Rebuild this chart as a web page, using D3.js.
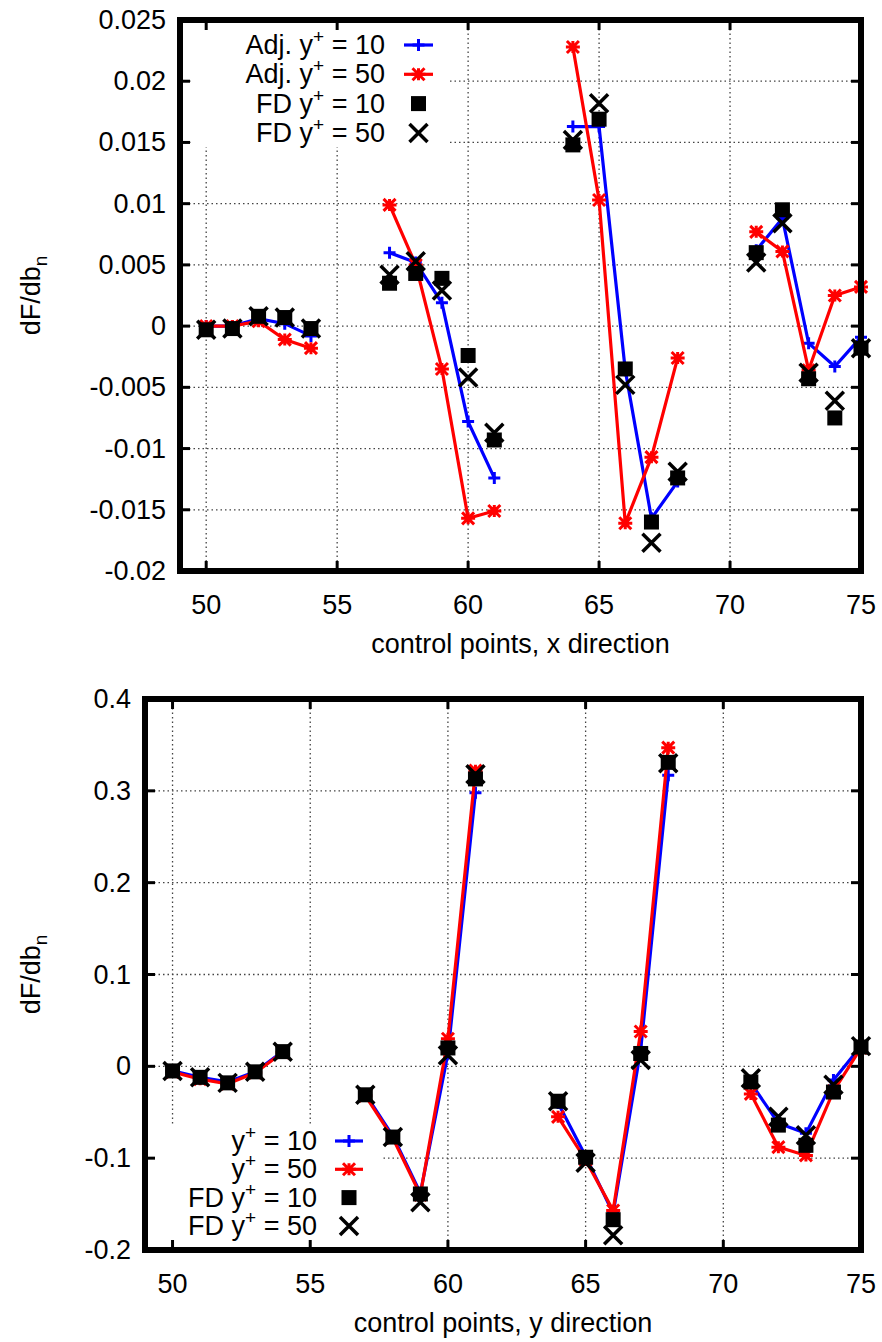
<!DOCTYPE html>
<html>
<head>
<meta charset="utf-8">
<script src="https://cdn.jsdelivr.net/npm/d3@7"></script>
<style>
  body { margin: 0; background: #fff; }
  svg { display: block; font-family: "Liberation Sans", Arial, sans-serif; }
</style>
</head>
<body>
<svg width="882" height="1342"></svg>
<script>
// control point indices (same for both panels)
const controlPoints = [50, 51, 52, 53, 54, 57, 58, 59, 60, 61, 64, 65, 66, 67, 68, 71, 72, 73, 74, 75]

// x direction
const adj10X = [0.0, 0.0, 0.0006, 0.0002, -0.0008, 0.0060, 0.0052, 0.0019, -0.0078, -0.0124,
  0.0163, 0.0163, -0.0036, -0.0157, -0.0127, 0.0062, 0.0088, -0.0014, -0.0033, -0.0009]
const adj50X = [0.0, 0.0, 0.0004, -0.0011, -0.0018, 0.0099, 0.0050, -0.0035, -0.0157, -0.0151,
  0.0228, 0.0103, -0.0161, -0.0107, -0.0026, 0.0077, 0.0061, -0.0036, 0.0025, 0.0032]
const fd10X = [-0.0003, -0.0002, 0.0008, 0.0007, -0.0002, 0.0035, 0.0043, 0.0039, -0.0024, -0.0093,
  0.0148, 0.0169, -0.0035, -0.0160, -0.0124, 0.0060, 0.0095, -0.0043, -0.0075, -0.0018]
const fd50X = [-0.0003, -0.0002, 0.0008, 0.0007, -0.0002, 0.0042, 0.0053, 0.0029, -0.0042, -0.0087,
  0.0152, 0.0182, -0.0048, -0.0177, -0.0119, 0.0052, 0.0084, -0.0038, -0.0061, -0.0018]

// y direction
const adj10Y = [-0.005, -0.012, -0.017, -0.006, 0.016, -0.030, -0.076, -0.138, 0.014, 0.298,
  -0.040, -0.098, -0.160, 0.018, 0.317, -0.018, -0.062, -0.073, -0.015, 0.022]
const adj50Y = [-0.006, -0.014, -0.019, -0.007, 0.015, -0.032, -0.078, -0.140, 0.030, 0.322,
  -0.055, -0.102, -0.157, 0.038, 0.347, -0.030, -0.088, -0.097, -0.027, 0.020]
const fd10Y = [-0.005, -0.012, -0.018, -0.006, 0.016, -0.031, -0.077, -0.139, 0.020, 0.313,
  -0.038, -0.099, -0.167, 0.014, 0.331, -0.017, -0.064, -0.086, -0.028, 0.021]
const fd50Y = [-0.005, -0.012, -0.018, -0.006, 0.016, -0.031, -0.077, -0.148, 0.012, 0.318,
  -0.038, -0.105, -0.184, 0.007, 0.330, -0.013, -0.055, -0.075, -0.020, 0.022]

const xTicks = [50, 55, 60, 65, 70, 75]
const yTicksTop = [0.025, 0.02, 0.015, 0.01, 0.005, 0, -0.005, -0.01, -0.015, -0.02]
const yTicksBottom = [0.4, 0.3, 0.2, 0.1, 0, -0.1, -0.2]

const legendTop = [["Adj. y", " = 10"], ["Adj. y", " = 50"], ["FD y", " = 10"], ["FD y", " = 50"]]
const legendBottom = [["y", " = 10"], ["y", " = 50"], ["FD y", " = 10"], ["FD y", " = 50"]]

const blue = "#0000ff", red = "#ff0000"
const fontSize = 27

const svg = d3.select("svg")

function markerPath(type) {
  if(type === 'plus') return "M-6,0H6M0,-6V6"
  else if(type === 'star') return "M-7,0H7M0,-6V6M-6,-6L6,6M-6,6L6,-6"
  else if(type === 'cross') return "M-9,-9L9,9M-9,9L9,-9"
  return ""
}

function drawPanel(cfg) {
  const x = d3.scaleLinear().domain([49, 75]).range([cfg.left, cfg.right])
  const y = d3.scaleLinear().domain(cfg.yDomain).range([cfg.bottom, cfg.top])
  const g = svg.append("g")

  // grid
  const grid = g.append("g").attr("stroke", "#444").attr("stroke-width", 1.3)
    .attr("stroke-dasharray", "1.5,3")
  grid.selectAll("line.v").data(xTicks.slice(0, -1)).enter().append("line")
    .attr("x1", d => x(d)).attr("x2", d => x(d))
    .attr("y1", cfg.top).attr("y2", cfg.bottom)
  grid.selectAll("line.h").data(cfg.yTicks.slice(1, -1)).enter().append("line")
    .attr("x1", cfg.left).attr("x2", cfg.right)
    .attr("y1", d => y(d)).attr("y2", d => y(d))

  // opaque key box
  g.append("rect").attr("x", cfg.keyBox[0]).attr("y", cfg.keyBox[1])
    .attr("width", cfg.keyBox[2]).attr("height", cfg.keyBox[3]).attr("fill", "#fff")

  // ticks (inward, all four sides)
  const ticks = g.append("g").attr("stroke", "#000").attr("stroke-width", 3)
  xTicks.forEach(t => {
    ticks.append("line").attr("x1", x(t)).attr("x2", x(t)).attr("y1", cfg.bottom).attr("y2", cfg.bottom - 10)
    ticks.append("line").attr("x1", x(t)).attr("x2", x(t)).attr("y1", cfg.top).attr("y2", cfg.top + 10)
  })
  cfg.yTicks.forEach(t => {
    ticks.append("line").attr("x1", cfg.left).attr("x2", cfg.left + 10).attr("y1", y(t)).attr("y2", y(t))
    ticks.append("line").attr("x1", cfg.right).attr("x2", cfg.right - 10).attr("y1", y(t)).attr("y2", y(t))
  })

  // tick labels
  g.append("g").selectAll("text").data(xTicks).enter().append("text")
    .attr("x", d => x(d)).attr("y", cfg.bottom + 43)
    .attr("text-anchor", "middle").attr("font-size", fontSize)
    .text(d => d)
  g.append("g").selectAll("text").data(cfg.yTicks).enter().append("text")
    .attr("x", cfg.left - 14).attr("y", d => y(d) + 9)
    .attr("text-anchor", "end").attr("font-size", fontSize)
    .text(d => String(d))

  // axis titles
  g.append("text").attr("x", (cfg.left + cfg.right) / 2).attr("y", cfg.bottom + 82)
    .attr("text-anchor", "middle").attr("font-size", fontSize).text(cfg.xTitle)
  const yt = g.append("text")
    .attr("transform", `translate(40,${(cfg.top + cfg.bottom) / 2}) rotate(-90)`)
    .attr("text-anchor", "middle").attr("font-size", fontSize)
  yt.append("tspan").text("dF/db")
  yt.append("tspan").attr("dy", 7).attr("font-size", 19).text("n")

  // data
  const pts = vals => controlPoints.map((c, i) => ({c: c, v: vals[i], brk: i > 0 && c - controlPoints[i - 1] > 1}))
  const lineFor = vals => {
    const p = pts(vals)
    let segs = [], cur = []
    p.forEach(d => { if(d.brk) { segs.push(cur); cur = [] } cur.push(d) })
    segs.push(cur)
    return segs
  }
  const line = d3.line().x(d => x(d.c)).y(d => y(d.v))

  ;[[cfg.adj10, blue, 'plus'], [cfg.adj50, red, 'star']].forEach(([vals, col, mk]) => {
    const s = g.append("g")
    s.selectAll("path.l").data(lineFor(vals)).enter().append("path")
      .attr("d", line).attr("fill", "none").attr("stroke", col).attr("stroke-width", 3.2)
    s.selectAll("path.m").data(pts(vals)).enter().append("path")
      .attr("transform", d => `translate(${x(d.c)},${y(d.v)})`)
      .attr("d", markerPath(mk)).attr("stroke", col).attr("stroke-width", 3).attr("fill", "none")
  })
  g.append("g").selectAll("rect").data(pts(cfg.fd10)).enter().append("rect")
    .attr("x", d => x(d.c) - 7.5).attr("y", d => y(d.v) - 7.5)
    .attr("width", 15).attr("height", 15).attr("fill", "#000")
  g.append("g").selectAll("path").data(pts(cfg.fd50)).enter().append("path")
    .attr("transform", d => `translate(${x(d.c)},${y(d.v)})`)
    .attr("d", markerPath('cross')).attr("stroke", "#000").attr("stroke-width", 3.5).attr("fill", "none")

  // legend
  const kinds = [[blue, 'plus'], [red, 'star'], ["#000", 'square'], ["#000", 'cross']]
  cfg.legend.forEach((lab, i) => {
    const ly = cfg.keyY + i * cfg.keyStep
    const t = g.append("text").attr("x", cfg.keyTextX).attr("y", ly + 9)
      .attr("text-anchor", "end").attr("font-size", fontSize)
    t.append("tspan").text(lab[0])
    t.append("tspan").attr("dy", -11).attr("font-size", 19).text("+")
    t.append("tspan").attr("dy", 11).text(lab[1])
    const [col, mk] = kinds[i]
    const sx = cfg.keySample
    if(i < 2) {
      g.append("line").attr("x1", sx[0]).attr("x2", sx[1]).attr("y1", ly).attr("y2", ly)
        .attr("stroke", col).attr("stroke-width", 3.2)
    }
    const cx = (sx[0] + sx[1]) / 2
    if(mk === 'square') {
      g.append("rect").attr("x", cx - 7.5).attr("y", ly - 7.5).attr("width", 15).attr("height", 15).attr("fill", "#000")
    } else {
      g.append("path").attr("transform", `translate(${cx},${ly})`).attr("d", markerPath(mk))
        .attr("stroke", col).attr("stroke-width", mk === 'cross' ? 3.5 : 3).attr("fill", "none")
    }
  })

  // frame
  g.append("rect").attr("x", cfg.left).attr("y", cfg.top)
    .attr("width", cfg.right - cfg.left).attr("height", cfg.bottom - cfg.top)
    .attr("fill", "none").attr("stroke", "#000").attr("stroke-width", 6)
}

drawPanel({
  left: 180, right: 861, top: 20, bottom: 571,
  yDomain: [-0.02, 0.025], yTicks: yTicksTop,
  adj10: adj10X, adj50: adj50X, fd10: fd10X, fd50: fd50X,
  xTitle: "control points, x direction",
  legend: legendTop, keyY: 45, keyStep: 29.3, keyTextX: 385, keySample: [404, 433],
  keyBox: [192, 23, 258, 124]
})

drawPanel({
  left: 145, right: 861, top: 699, bottom: 1250,
  yDomain: [-0.2, 0.4], yTicks: yTicksBottom,
  adj10: adj10Y, adj50: adj50Y, fd10: fd10Y, fd50: fd50Y,
  xTitle: "control points, y direction",
  legend: legendBottom, keyY: 1141, keyStep: 28.3, keyTextX: 317, keySample: [335, 363],
  keyBox: [150, 1126, 232, 121]
})
</script>
</body>
</html>
